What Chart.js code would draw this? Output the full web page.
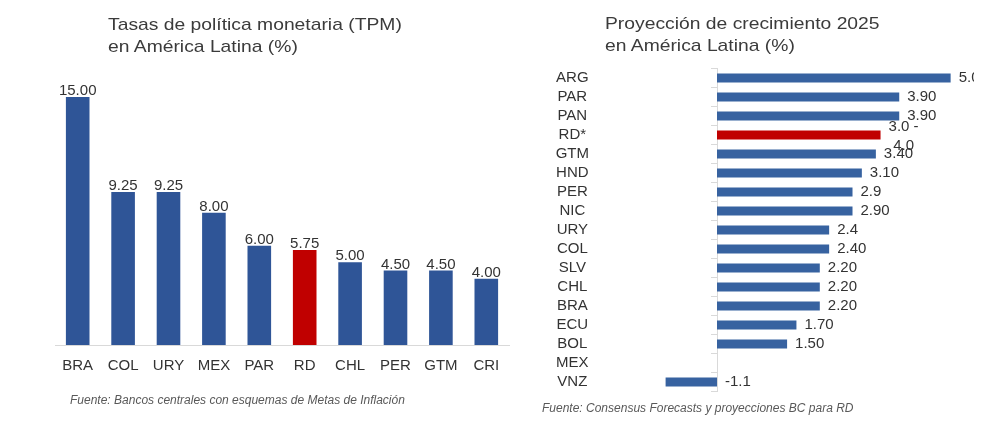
<!DOCTYPE html>
<html>
<head>
<meta charset="utf-8">
<script src="https://cdn.jsdelivr.net/npm/chart.js@4"></script>
<style>
  html, body { margin: 0; padding: 0; background: #fff; }
  body { width: 1008px; height: 422px; position: relative; overflow: hidden; font-family: "Liberation Sans", Arial, sans-serif; }
  .box { position: absolute; }
  .title { position: absolute; font-size: 17px; line-height: 21.5px; color: #3b3b3b; white-space: nowrap; transform: scaleX(1.135); transform-origin: left top; }
  .note { position: absolute; font-size: 12px; line-height: 14px; font-style: italic; color: #595959; white-space: nowrap; }
</style>
</head>
<body>
<div class="box" style="left:0; top:0; width:520px; height:422px"><canvas id="tpm"></canvas></div>
<div class="box" style="left:520px; top:0; width:454px; height:422px"><canvas id="growth"></canvas></div>
<div class="title" style="left:108px; top:14px">Tasas de política monetaria (TPM)<br>en América Latina (%)</div>
<div class="title" style="left:605px; top:13px">Proyección de crecimiento 2025<br>en América Latina (%)</div>
<div class="note" style="left:70px; top:393px">Fuente: Bancos centrales con esquemas de Metas de Inflación</div>
<div class="note" style="left:542px; top:401px">Fuente: Consensus Forecasts y proyecciones BC para RD</div>
<script>
// Left chart: policy rates
const tpmCountries = ["BRA", "COL", "URY", "MEX", "PAR", "RD", "CHL", "PER", "GTM", "CRI"];
const tpmRates = [15.00, 9.25, 9.25, 8.00, 6.00, 5.75, 5.00, 4.50, 4.50, 4.00];

// Right chart: growth projection 2025 (RD* is a 3.0 - 4.0 range, drawn at its midpoint)
const growthCountries = ["ARG", "PAR", "PAN", "RD*", "GTM", "HND", "PER", "NIC", "URY", "COL", "SLV", "CHL", "BRA", "ECU", "BOL", "MEX", "VNZ"];
const growthValues = [5.0, 3.9, 3.9, 3.5, 3.4, 3.1, 2.9, 2.9, 2.4, 2.4, 2.2, 2.2, 2.2, 1.7, 1.5, null, -1.1];
const growthLabels = ["5.0", "3.90", "3.90", "3.0 -\n4.0", "3.40", "3.10", "2.9", "2.90", "2.4", "2.40", "2.20", "2.20", "2.20", "1.70", "1.50", "", "-1.1"];

const BLUE = "#2f5597";
const BLUE_LIGHT = "#3762a0";
const RED = "#c00000";
const FONT = "'Liberation Sans', Arial, sans-serif";
const TEXT = "#333333";

// colour the Dominican Republic bar red
function barColors(countries, blue) {
    return countries.map(c => c.startsWith("RD") ? RED : blue);
}

// draws the value next to every bar
function makeLabelPlugin(texts, horizontal) {
    return {
        id: "valueLabels",
        afterDatasetsDraw(chart) {
            const ctx = chart.ctx;
            const meta = chart.getDatasetMeta(0);
            ctx.save();
            ctx.font = "15px " + FONT;
            ctx.fillStyle = TEXT;
            meta.data.forEach((bar, i) => {
                const text = texts[i];
                if (!text) return;
                if (!horizontal) {
                    ctx.textAlign = "center";
                    ctx.textBaseline = "alphabetic";
                    ctx.fillText(text, bar.x, bar.y - 2);
                    return;
                }
                const end = Math.max(bar.x, bar.base) + 8;
                const lines = text.split("\n");
                ctx.textBaseline = "middle";
                if (lines.length > 1) {
                    const w = Math.max(...lines.map(l => ctx.measureText(l).width));
                    ctx.textAlign = "center";
                    ctx.fillText(lines[0], end + w / 2, bar.y - 8.5);
                    ctx.fillText(lines[1], end + w / 2, bar.y + 10.5);
                } else {
                    ctx.textAlign = "left";
                    ctx.fillText(text, end, bar.y);
                }
            });
            ctx.restore();
        }
    };
}

new Chart(document.getElementById("tpm"), {
    type: "bar",
    data: {
        labels: tpmCountries,
        datasets: [{
            data: tpmRates,
            backgroundColor: barColors(tpmCountries, BLUE),
            barPercentage: 0.52,
            categoryPercentage: 1
        }]
    },
    options: {
        responsive: true,
        maintainAspectRatio: false,
        animation: false,
        layout: { padding: { left: 55, right: 11, top: 97, bottom: 35 } },
        plugins: { legend: { display: false }, tooltip: { enabled: false } },
        scales: {
            x: {
                grid: { display: true, drawOnChartArea: false, drawTicks: false },
                border: { color: "#d9d9d9" },
                ticks: { padding: 12, font: { size: 15, family: FONT }, color: TEXT, maxRotation: 0, autoSkip: false }
            },
            y: { display: false, min: 0, max: 15 }
        }
    },
    plugins: [makeLabelPlugin(tpmRates.map(v => v.toFixed(2)), false)]
});

// the category axis sits on zero; the negative VNZ bar is drawn outside the area (clip: false)
new Chart(document.getElementById("growth"), {
    type: "bar",
    data: {
        labels: growthCountries,
        datasets: [{
            data: growthValues,
            backgroundColor: barColors(growthCountries, BLUE_LIGHT),
            barPercentage: 0.47,
            categoryPercentage: 1,
            clip: false
        }]
    },
    options: {
        indexAxis: "y",
        responsive: true,
        maintainAspectRatio: false,
        animation: false,
        layout: { padding: { left: 0, right: 0, top: 68.5, bottom: 30.5 } },
        plugins: { legend: { display: false }, tooltip: { enabled: false } },
        scales: {
            x: { display: false, min: 0, max: 5.5 },
            y: {
                // fixed width, and the big label padding must not eat vertical space
                afterFit: scale => {
                    scale.width = 197;
                    scale.paddingTop = 0;
                    scale.paddingBottom = 0;
                },
                grid: { display: true, drawOnChartArea: false, drawTicks: true, tickLength: 6, color: "#d9d9d9" },
                border: { color: "#d9d9d9" },
                ticks: { crossAlign: "center", padding: 122, font: { size: 15, family: FONT }, color: TEXT, autoSkip: false }
            }
        }
    },
    plugins: [makeLabelPlugin(growthLabels, true)]
});
</script>
</body>
</html>
